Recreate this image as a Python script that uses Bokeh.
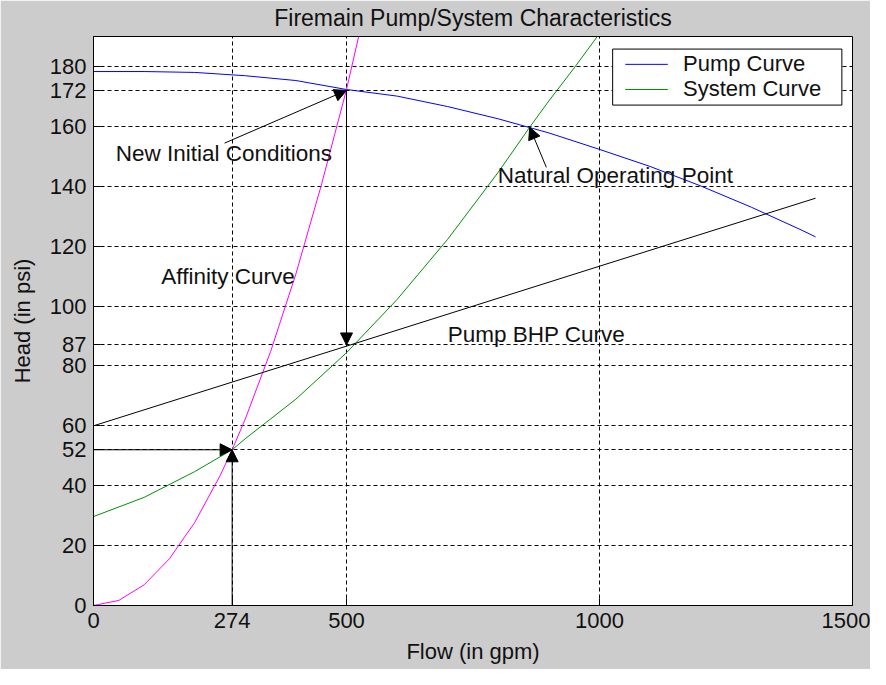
from bokeh.plotting import figure
from bokeh.models import FixedTicker, Arrow, NormalHead, Label
from bokeh.embed import file_html
from bokeh.resources import INLINE

# ---- data ----
pump_flow = [0, 100, 200, 300, 400, 500, 600, 700, 800, 900, 1000, 1100, 1200, 1300, 1400, 1427]
pump_head = [178.3, 178.3, 178.0, 176.9, 175.3, 172.3, 170.1, 166.6, 162.5, 157.8, 152.3, 146.6, 140.1, 133.0, 125.3, 123.1]

system_flow = [0, 100, 200, 274, 300, 400, 500, 600, 700, 800, 862, 900, 950, 1000]
system_head = [29.7, 36.1, 44.7, 52.0, 55.7, 68.9, 84.4, 102.2, 122.3, 144.7, 159.7, 168.5, 179.5, 191.0]

affinity_flow = [0, 50, 100, 150, 200, 250, 274, 300, 350, 400, 450, 500, 525]
affinity_head = [0, 1.7, 6.9, 15.6, 27.7, 43.3, 52.0, 62.3, 84.8, 110.7, 140.2, 172.3, 190.7]

bhp_flow = [0, 274, 500, 1000, 1427]
bhp_head = [60.0, 74.6, 86.6, 113.3, 136.0]

x_ticks = [0, 274, 500, 1000, 1500]
y_ticks = [0, 20, 40, 52, 60, 80, 87, 100, 120, 140, 160, 172, 180]

legend_labels = ["Pump Curve", "System Curve"]
legend_colors = ["#0000ff", "#009000"]

reduced_flow, reduced_head = 274, 52
initial_flow, initial_head = 500, 172
bhp_point_flow, bhp_point_head = 500, 87
natural_flow, natural_head = 862, 159.7

TITLE = "Firemain Pump/System Characteristics"
FONT = "Liberation Sans"
FS = "22px"
NOTE_FS = "22.5px"
INK = "#111111"

p = figure(width=870, height=669, x_range=(0, 1500), y_range=(0, 190),
           output_backend="svg", toolbar_location=None,
           min_border_left=93, min_border_right=18, min_border_top=36, min_border_bottom=64,
           background_fill_color="white", border_fill_color="#cccccc")

p.outline_line_color = "black"
p.outline_line_width = 1

p.title.text = TITLE
p.title.align = "center"
p.title.vertical_align = "top"
p.title.text_font = FONT
p.title.text_font_size = "23px"
p.title.text_font_style = "normal"
p.title.text_color = INK
p.title.text_line_height = 1.0
p.title.standoff = 7

p.xaxis.ticker = FixedTicker(ticks=x_ticks)
p.yaxis.ticker = FixedTicker(ticks=y_ticks)
for ax in (p.xaxis[0], p.yaxis[0]):
    ax.major_tick_in = 7
    ax.major_tick_out = 0
    ax.minor_tick_line_color = None
    ax.axis_line_color = "black"
    ax.major_tick_line_color = "black"
    ax.major_label_text_font = FONT
    ax.major_label_text_font_size = FS
    ax.major_label_text_color = INK
    ax.major_label_standoff = 7
    ax.axis_label_text_font = FONT
    ax.axis_label_text_font_size = FS
    ax.axis_label_text_font_style = "normal"
    ax.axis_label_text_color = INK
p.xaxis.axis_label = "Flow (in gpm)"
p.yaxis.axis_label = "Head (in psi)"
p.xaxis.axis_label_standoff = 8
p.yaxis.axis_label_standoff = 12

for g in (p.xgrid[0], p.ygrid[0]):
    g.grid_line_color = "black"
    g.grid_line_dash = "4 3"
    g.grid_line_width = 1
    g.grid_line_alpha = 1

p.line(pump_flow, pump_head, color=legend_colors[0], line_width=1)
p.line(system_flow, system_head, color=legend_colors[1], line_width=1)
p.line(affinity_flow, affinity_head, color="#ff00ff", line_width=1)
p.line(bhp_flow, bhp_head, color="black", line_width=1)

def arrow(xs, ys, xe, ye):
    p.add_layout(Arrow(end=NormalHead(size=12, fill_color="black", line_color="black"),
                       x_start=xs, y_start=ys, x_end=xe, y_end=ye,
                       line_color="black", line_width=1))

arrow(0, reduced_head, reduced_flow, reduced_head)
arrow(reduced_flow, 0, reduced_flow, reduced_head)
arrow(initial_flow, initial_head, bhp_point_flow, bhp_point_head)
arrow(259, 154.4, initial_flow, initial_head)
arrow(895, 146.3, natural_flow, natural_head)

notes = [("New Initial Conditions", 44, 151.0),
         ("Affinity Curve", 134, 110.0),
         ("Natural Operating Point", 799, 143.5),
         ("Pump BHP Curve", 700, 90.5)]
for t, x, y in notes:
    p.add_layout(Label(x=x, y=y, text=t, text_font=FONT, text_font_size=NOTE_FS,
                       text_color=INK, text_baseline="alphabetic", text_align="left"))

# legend box (drawn by hand in the upper-right corner of the axes)
box_left, box_right, box_bottom, box_top = 1026, 1479, 167.1, 185.8
sample_left, sample_right, text_left = 1051, 1135, 1165
row_mid = [180.7, 172.3]
row_text = [181.0, 172.7]
p.quad(left=[box_left], right=[box_right], bottom=[box_bottom], top=[box_top],
       fill_color="white", line_color="black", line_width=1)
p.segment(x0=[sample_left] * 2, x1=[sample_right] * 2, y0=row_mid, y1=row_mid,
          line_color=legend_colors, line_width=1)
for t, y in zip(legend_labels, row_text):
    p.add_layout(Label(x=text_left, y=y, text=t, text_font=FONT, text_font_size=FS,
                       text_color=INK, text_baseline="alphabetic", text_align="left"))

open("out.html", "w").write(file_html(p, INLINE))
